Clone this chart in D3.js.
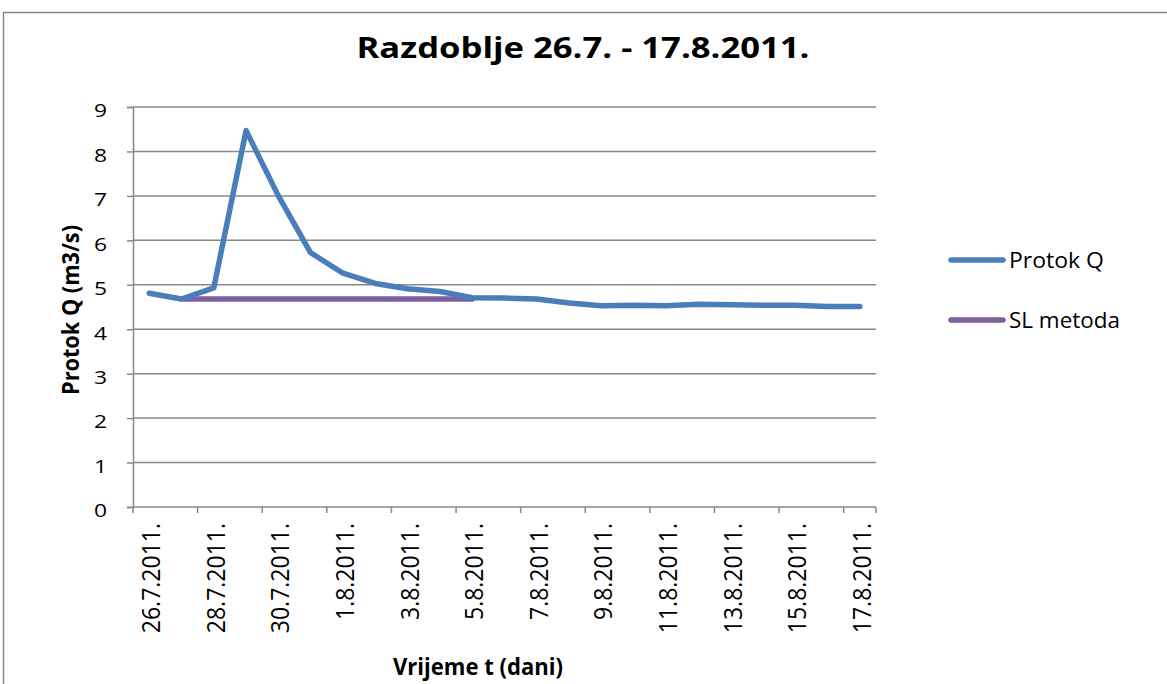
<!DOCTYPE html>
<html>
<head>
<meta charset="utf-8">
<script src="https://cdn.jsdelivr.net/npm/d3@7"></script>
<style>
  html, body { margin: 0; padding: 0; background: #fff; }
  svg { display: block; }
  text { font-family: "Open Sans", Carlito, Calibri, sans-serif; fill: #000; }
</style>
</head>
<body>
<svg id="chart" width="1167" height="684"></svg>
<script>
// Daily dates of the observation period
const days = [
  "26.7.2011.", "27.7.2011.", "28.7.2011.", "29.7.2011.", "30.7.2011.", "31.7.2011.",
  "1.8.2011.", "2.8.2011.", "3.8.2011.", "4.8.2011.", "5.8.2011.", "6.8.2011.",
  "7.8.2011.", "8.8.2011.", "9.8.2011.", "10.8.2011.", "11.8.2011.", "12.8.2011.",
  "13.8.2011.", "14.8.2011.", "15.8.2011.", "16.8.2011.", "17.8.2011."
];

// Measured discharge Q (m3/s)
const protokQ = [
  4.81, 4.68, 4.93, 8.47, 7.0, 5.72, 5.26, 5.03, 4.91, 4.85, 4.71, 4.70,
  4.68, 4.59, 4.53, 4.54, 4.53, 4.56, 4.55, 4.54, 4.54, 4.51, 4.51
];

// Baseflow separation by the straight-line (SL) method
const slDays = ["27.7.2011.", "5.8.2011."];
const slValues = [4.68, 4.68];

const yTicks = [0, 1, 2, 3, 4, 5, 6, 7, 8, 9];

const svg = d3.select("#chart");
const FONT = "'Open Sans', Carlito, Calibri, sans-serif";

const plot = { left: 133, right: 876, top: 107, bottom: 507 };

// Outer chart frame
svg.append("rect")
  .attr("x", 3.5).attr("y", 12.5)
  .attr("width", 1200).attr("height", 700)
  .attr("fill", "none").attr("stroke", "#888").attr("stroke-width", 1.5);

const x = d3.scaleBand().domain(days).range([plot.left, plot.right]).padding(0);
const y = d3.scaleLinear().domain([0, 9]).range([plot.bottom, plot.top]);

// Horizontal gridlines
svg.append("g")
  .selectAll("line")
  .data(yTicks.filter(d => d > 0))
  .join("line")
  .attr("x1", plot.left).attr("x2", plot.right)
  .attr("y1", d => y(d)).attr("y2", d => y(d))
  .attr("stroke", "#888").attr("stroke-width", 1.5);

// Y axis
const yAxis = svg.append("g")
  .attr("transform", `translate(${plot.left},0)`)
  .call(d3.axisLeft(y).tickValues(yTicks).tickSize(6).tickPadding(20).tickFormat(d3.format("d")));
yAxis.select(".domain").attr("stroke", "#888").attr("stroke-width", 1.5);
yAxis.selectAll(".tick line").attr("stroke", "#888").attr("stroke-width", 1.5);
yAxis.selectAll(".tick text")
  .attr("font-size", 19).attr("fill", "#000").attr("dy", "0.52em")
  .attr("transform", "translate(-6,0) scale(1.2,1)")
  .attr("x", -20 / 1.2 + 6 / 1.2 - 6 / 1.2)
  .style("font-family", FONT);

// X axis: ticks at every second category boundary
const labelled = days.filter((d, i) => i % 2 === 0);
const boundaryTicks = labelled.map(d => x(d));
boundaryTicks.push(plot.right);
const xg = svg.append("g");
xg.append("line")
  .attr("x1", plot.left).attr("x2", plot.right)
  .attr("y1", plot.bottom).attr("y2", plot.bottom)
  .attr("stroke", "#888").attr("stroke-width", 1.5);
xg.selectAll("line.tk")
  .data(boundaryTicks)
  .join("line")
  .attr("class", "tk")
  .attr("x1", d => d).attr("x2", d => d)
  .attr("y1", plot.bottom).attr("y2", plot.bottom + 6)
  .attr("stroke", "#888").attr("stroke-width", 1.5);
xg.selectAll("text.lbl")
  .data(labelled)
  .join("text")
  .attr("class", "lbl")
  .attr("font-size", 25)
  .attr("text-anchor", "end")
  .attr("y", 11)
  .attr("transform", d => `translate(${x(d) + x.bandwidth() / 2},523) rotate(-90) scale(0.92,1)`)
  .text(d => d);

// Series lines
const cx = d => x(d) + x.bandwidth() / 2;
const line = d3.line().x(d => cx(d[0])).y(d => y(d[1]));

svg.append("path")
  .datum(slDays.map((d, i) => [d, slValues[i]]))
  .attr("d", line)
  .attr("fill", "none")
  .attr("stroke", "#7D60A0")
  .attr("stroke-width", 5.5)
  .attr("stroke-linecap", "round");

svg.append("path")
  .datum(days.map((d, i) => [d, protokQ[i]]))
  .attr("d", line)
  .attr("fill", "none")
  .attr("stroke", "#4A7EBB")
  .attr("stroke-width", 5.5)
  .attr("stroke-linecap", "round")
  .attr("stroke-linejoin", "round");

// Title
svg.append("text")
  .attr("x", 583).attr("y", 58)
  .attr("text-anchor", "middle")
  .attr("font-size", 28)
  .attr("font-weight", "bold")
  .attr("textLength", 453)
  .attr("lengthAdjust", "spacingAndGlyphs")
  .text("Razdoblje 26.7. - 17.8.2011.");

// Axis titles
svg.append("text")
  .attr("transform", "translate(79,310) rotate(-90)")
  .attr("text-anchor", "middle")
  .attr("font-size", 23)
  .attr("font-weight", "bold")
  .attr("textLength", 170)
  .attr("lengthAdjust", "spacingAndGlyphs")
  .text("Protok Q (m3/s)");

svg.append("text")
  .attr("x", 478).attr("y", 675)
  .attr("text-anchor", "middle")
  .attr("font-size", 23)
  .attr("font-weight", "bold")
  .attr("textLength", 170)
  .attr("lengthAdjust", "spacingAndGlyphs")
  .text("Vrijeme t (dani)");

// Legend
const legend = [
  { name: "Protok Q", color: "#4A7EBB", y: 260, w: 95 },
  { name: "SL metoda", color: "#7D60A0", y: 320, w: 111 }
];
const lg = svg.append("g");
lg.selectAll("line")
  .data(legend)
  .join("line")
  .attr("x1", 951).attr("x2", 1003)
  .attr("y1", d => d.y).attr("y2", d => d.y)
  .attr("stroke", d => d.color)
  .attr("stroke-width", 5.5)
  .attr("stroke-linecap", "round");
lg.selectAll("text")
  .data(legend)
  .join("text")
  .attr("x", 1009)
  .attr("y", d => d.y + 8)
  .attr("font-size", 21)
  .attr("textLength", d => d.w)
  .attr("lengthAdjust", "spacingAndGlyphs")
  .text(d => d.name);
</script>
</body>
</html>
